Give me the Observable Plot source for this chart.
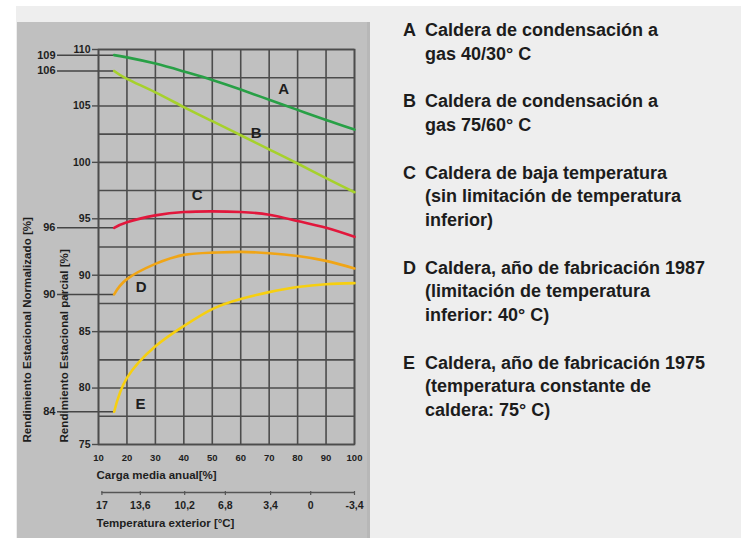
<!DOCTYPE html>
<html>
<head>
<meta charset="utf-8">
<script src="https://cdn.jsdelivr.net/npm/d3@7"></script>
<script src="https://cdn.jsdelivr.net/npm/@observablehq/plot@0.6"></script>
<style>
  html, body { margin: 0; padding: 0; background: #ffffff; }
  body { width: 741px; height: 538px; position: relative; overflow: hidden; font-family: "Liberation Sans", Arial, sans-serif; }
  #light { position: absolute; left: 16px; top: 6px; width: 725px; height: 532px; background: #eeeeee; }
  #panel { position: absolute; left: 17px; top: 22px; width: 353px; height: 516px; background: #c0c0c0; box-shadow: inset -3px 0 0 #b7b7b7; }
  #chart { position: absolute; left: 0; top: 0; }
  #legend { position: absolute; left: 403px; top: 19px; font-size: 18px; font-weight: bold; line-height: 23.76px; color: #1c1c1c; }
  .item { display: flex; margin-bottom: 23.76px; }
  .key { width: 22px; flex: none; }
</style>
</head>
<body>
<div id="light"></div>
<div id="panel"></div>
<div id="chart"></div>
<div id="legend"></div>
<script>
// ---- data ----
const loads = [15.5, 20, 30, 40, 50, 60, 70, 80, 90, 100];
const seriesNames = ["A", "B", "C", "D", "E"];
const seriesColors = ["#28a046", "#a6d12c", "#e2173c", "#f0a516", "#f6cf10"];
const valuesA = [109.5, 109.3, 108.75, 108.05, 107.3, 106.45, 105.55, 104.65, 103.75, 102.9];
const valuesB = [108.1, 107.4, 106.2, 104.9, 103.65, 102.4, 101.15, 99.9, 98.6, 97.35];
const valuesC = [94.2, 94.7, 95.3, 95.6, 95.66, 95.6, 95.36, 94.8, 94.2, 93.4];
const valuesD = [88.3, 89.65, 91.0, 91.8, 92.0, 92.07, 91.95, 91.7, 91.27, 90.6];
const valuesE = [77.9, 80.9, 83.7, 85.5, 87.0, 87.9, 88.5, 88.95, 89.2, 89.3];
const normLabels = ["109", "106", "96", "90", "84"];
const letterX = [75.1, 65.4, 44.7, 25.0, 24.8];
const letterY = [106.5, 102.6, 97.1, 88.96, 78.6];

const xTicks = [10, 20, 30, 40, 50, 60, 70, 80, 90, 100];
const yTicks = [75, 80, 85, 90, 95, 100, 105, 110];
const yGrid = [75, 77.5, 80, 82.5, 85, 87.5, 90, 92.5, 95, 97.5, 100, 102.5, 105, 107.5, 110];
const tempLabels = ["17", "13,6", "10,2", "6,8", "3,4", "0", "-3,4"];
const tempLoads = [11.2, 24.7, 40.3, 54.6, 70.5, 84.6, 100];

const legendKeys = ["A", "B", "C", "D", "E"];
const legendTexts = [
  ["Caldera de condensación a", "gas 40/30° C"],
  ["Caldera de condensación a", "gas 75/60° C"],
  ["Caldera de baja temperatura", "(sin limitación de temperatura", "inferior)"],
  ["Caldera, año de fabricación 1987", "(limitación de temperatura", "inferior: 40° C)"],
  ["Caldera, año de fabricación 1975", "(temperatura constante de", "caldera: 75° C)"]
];

// ---- tables ----
const allValues = [valuesA, valuesB, valuesC, valuesD, valuesE];
const rows = seriesNames.flatMap((name, i) => loads.map((x, j) => ({name, x, y: allValues[i][j]})));
const starts = seriesNames.map((name, i) => ({name, x: loads[0], y: allValues[i][0], norm: normLabels[i]}));
const letters = seriesNames.map((name, i) => ({name, x: letterX[i], y: letterY[i]}));
const tempAxis = tempLabels.map((label, i) => ({label, x: tempLoads[i]}));

const xDomain = [10, 100];
const yDomain = [75, 110];
const grid = "#4c4c4c";
const ink = "#1e1e1e";
const font = "'Liberation Sans', Arial, sans-serif";

const chart = Plot.plot({
  width: 370,
  height: 538,
  marginLeft: 98,
  marginRight: 16,
  marginTop: 49,
  marginBottom: 94,
  x: {domain: xDomain, axis: null},
  y: {domain: yDomain, axis: null},
  color: {domain: seriesNames, range: seriesColors},
  style: {background: "transparent", fontFamily: font, color: ink, overflow: "visible"},
  marks: [
    Plot.ruleX(xTicks, {stroke: grid, strokeWidth: 1.6}),
    Plot.ruleY(yGrid, {stroke: grid, strokeWidth: 1.6}),
    Plot.axisY(yTicks, {label: null, tickSize: 6, tickPadding: 2, fontSize: 10.5, fontWeight: "bold", stroke: grid, strokeWidth: 1.4}),
    Plot.axisX(xTicks, {label: null, tickSize: 0, tickPadding: 10, fontSize: 9.5, fontWeight: "bold"}),
    Plot.text(["Carga media anual[%]"], {frameAnchor: "bottom-left", textAnchor: "start", dx: -2, dy: 34, fontSize: 11.5, fontWeight: "bold"}),
    // temperature axis
    Plot.ruleY([yDomain[0]], {x1: tempLoads[0], x2: tempLoads[tempLoads.length - 1], dy: 48, stroke: "#555", strokeWidth: 1.4}),
    Plot.ruleX(tempAxis, {x: "x", y1: yDomain[0], y2: yDomain[0], insetBottom: -4, dy: 47, stroke: "#555", strokeWidth: 1.2}),
    Plot.text(tempAxis, {x: "x", text: "label", frameAnchor: "bottom", dy: 64, fontSize: 10.5, fontWeight: "bold"}),
    Plot.text(["Temperatura exterior [°C]"], {frameAnchor: "bottom-left", textAnchor: "start", dx: -2, dy: 82, fontSize: 11.5, fontWeight: "bold"}),
    // rotated axis titles
    Plot.text(["Rendimiento Estacional Normalizado [%]"], {frameAnchor: "bottom-left", textAnchor: "start", rotate: -90, dx: -68, dy: -2, fontSize: 11.6, fontWeight: "bold"}),
    Plot.text(["Rendimiento Estacional parcial [%]"], {frameAnchor: "bottom-left", textAnchor: "start", rotate: -90, dx: -31, dy: -2, fontSize: 11.6, fontWeight: "bold"}),
    // normalized-value reference lines
    Plot.ruleY(starts, {y: "y", x1: xDomain[0], x2: "x", insetLeft: -41, stroke: "#454545", strokeWidth: 1.5}),
    Plot.text(starts, {x: xDomain[0], y: "y", text: "norm", textAnchor: "end", dx: -43, fontSize: 11, fontWeight: "bold"}),
    Plot.frame({stroke: grid, strokeWidth: 1.6}),
    Plot.line(rows, {x: "x", y: "y", z: "name", stroke: "name", strokeWidth: 2.6, curve: "natural"}),
    Plot.text(letters, {x: "x", y: "y", text: "name", fontSize: 15, fontWeight: "bold", fill: ink})
  ]
});
document.getElementById("chart").appendChild(chart);

// legend
const legend = document.getElementById("legend");
legendKeys.forEach((k, i) => {
  const item = document.createElement("div");
  item.className = "item";
  const key = document.createElement("div");
  key.className = "key";
  key.textContent = k;
  const txt = document.createElement("div");
  txt.innerHTML = legendTexts[i].join("<br>");
  item.appendChild(key);
  item.appendChild(txt);
  legend.appendChild(item);
});
</script>
</body>
</html>
